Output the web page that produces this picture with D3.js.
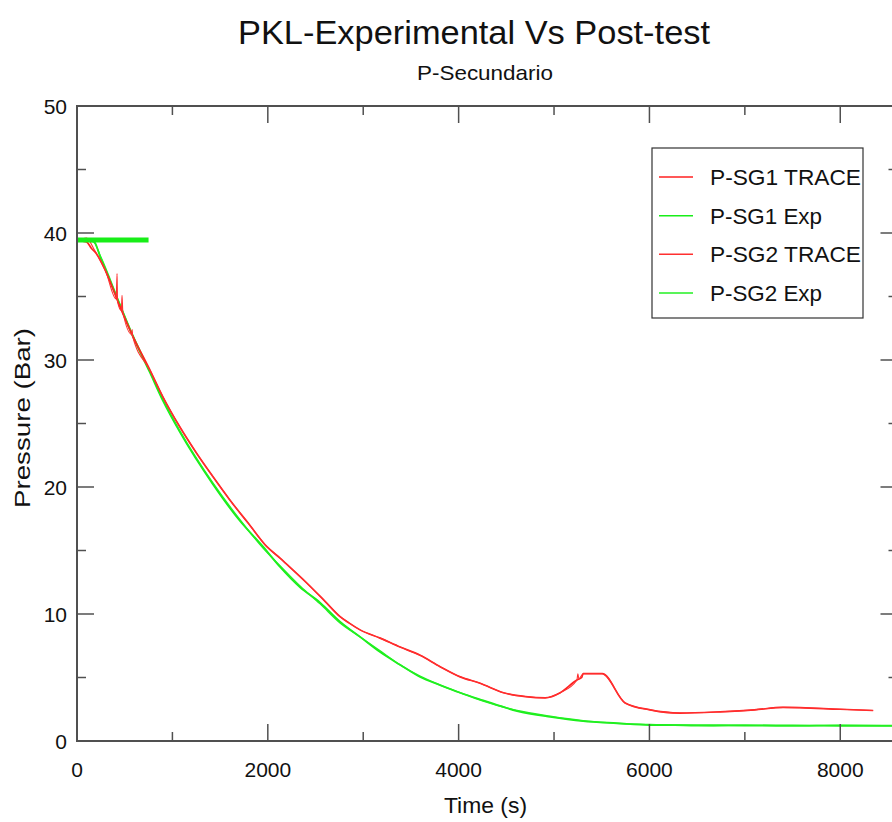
<!DOCTYPE html>
<html lang="en">
<head>
    <meta charset="UTF-8">
    <script src="https://d3js.org/d3.v7.min.js"></script>
    <style>
        body { margin: 0; background: #fff; }
        svg { display: block; font-family: "Liberation Sans", Arial, sans-serif; }
        .tick-label { font-size: 21px; fill: #111; }
    </style>
</head>
<body>
<div id="chart_area"></div>
<script>
    // time (s) / pressure (bar)
    var sg1TraceTime = [0, 100, 150, 200, 300, 450, 577, 765, 900, 1080, 1250, 1426, 1600, 1800, 1990, 2128, 2200, 2400, 2600, 2757, 2850, 2967, 3177, 3386, 3596, 3806, 4016, 4225, 4470, 4700, 4907, 5065, 5240, 5290, 5305, 5505, 5745, 6008, 6320, 6740, 7100, 7400, 8000, 8345];
    var sg1TraceP    = [39.4, 39.3, 38.8, 38.4, 37.0, 34.2, 32.0, 29.2, 27.1, 24.7, 22.7, 20.8, 19.0, 17.1, 15.3, 14.4, 13.9, 12.5, 11.0, 9.8, 9.3, 8.75, 8.1, 7.4, 6.75, 5.85, 5.05, 4.55, 3.8, 3.5, 3.4, 3.8, 4.8, 5.0, 5.3, 5.3, 3.0, 2.45, 2.2, 2.3, 2.45, 2.65, 2.5, 2.4];

    var sg2TraceTime = [0, 100, 180, 300, 410, 420, 425, 465, 472, 480, 577, 578, 582, 765, 900, 1080, 1250, 1426, 1600, 1800, 1990, 2128, 2200, 2400, 2600, 2757, 2850, 2967, 3177, 3386, 3596, 3806, 4016, 4225, 4470, 4700, 4907, 5065, 5240, 5250, 5260, 5305, 5505, 5745, 6008, 6320, 6740, 7100, 7400, 8000, 8345];
    var sg2TraceP    = [39.4, 39.6, 38.7, 37.0, 34.8, 36.8, 34.6, 33.9, 35.1, 33.8, 32.0, 32.4, 31.9, 29.2, 27.1, 24.7, 22.7, 20.8, 19.0, 17.1, 15.3, 14.4, 13.9, 12.5, 11.0, 9.8, 9.3, 8.75, 8.1, 7.4, 6.75, 5.85, 5.05, 4.55, 3.8, 3.5, 3.4, 3.8, 4.8, 5.3, 4.9, 5.3, 5.3, 3.0, 2.45, 2.2, 2.3, 2.45, 2.65, 2.5, 2.4];

    var sg1ExpTime = [0, 170, 250, 450, 577, 765, 900, 1080, 1426, 1700, 1950, 2128, 2338, 2548, 2757, 2967, 3177, 3386, 3596, 3806, 4016, 4257, 4613, 4960, 5305, 5660, 6008, 6500, 7000, 7500, 8000, 8600];
    var sg1ExpP    = [39.4, 39.4, 38.0, 34.3, 32.0, 29.0, 26.8, 24.3, 20.2, 17.4, 15.3, 13.7, 12.1, 10.9, 9.4, 8.2, 7.0, 6.0, 5.04, 4.4, 3.8, 3.2, 2.36, 1.9, 1.57, 1.4, 1.26, 1.25, 1.22, 1.22, 1.2, 1.2];

    var sg2ExpTime = [0, 170, 250, 450, 577, 765, 900, 1080, 1426, 1700, 1950, 2128, 2338, 2548, 2757, 2967, 3177, 3386, 3596, 3806, 4016, 4257, 4613, 4960, 5305, 5660, 6008, 6500, 7000, 7500, 8000, 8600];
    var sg2ExpP    = [39.4, 39.3, 38.1, 34.4, 32.1, 29.1, 26.9, 24.4, 20.3, 17.5, 15.2, 13.8, 12.2, 10.8, 9.3, 8.2, 7.1, 6.0, 5.1, 4.4, 3.8, 3.15, 2.4, 1.95, 1.6, 1.38, 1.3, 1.2, 1.25, 1.2, 1.25, 1.2];

    // thick flat band of experimental data at the start
    var expBandTime = [0, 750];
    var expBandP    = [39.45, 39.45];

    var xTicks = [0, 2000, 4000, 6000, 8000];
    var xMinorTicks = [1000, 3000, 5000, 7000];
    var yTicks = [0, 10, 20, 30, 40, 50];
    var yMinorTicks = [5, 15, 25, 35, 45];

    var seriesNames = ["P-SG1 TRACE", "P-SG1 Exp", "P-SG2 TRACE", "P-SG2 Exp"];
    var seriesColors = ["#ff2020", "#18ee18", "#ff3030", "#22f022"];

    var W = 892, H = 822;
    var margin = { top: 106, left: 77 };
    var plotW = 820.5, plotH = 635;

    var svg = d3.select("#chart_area").append("svg")
        .attr("width", W)
        .attr("height", H);

    var x = d3.scaleLinear().domain([0, 8600]).range([margin.left, margin.left + plotW]);
    var y = d3.scaleLinear().domain([0, 50]).range([margin.top + plotH, margin.top]);

    // titles
    svg.append("text")
        .attr("x", 238).attr("y", 44)
        .attr("textLength", 472)
        .attr("lengthAdjust", "spacingAndGlyphs")
        .style("font-size", "33px").style("fill", "#111")
        .text("PKL-Experimental Vs Post-test");
    svg.append("text")
        .attr("x", 417).attr("y", 80)
        .attr("textLength", 136)
        .attr("lengthAdjust", "spacingAndGlyphs")
        .style("font-size", "21px").style("fill", "#111")
        .text("P-Secundario");

    // clip for data lines
    svg.append("clipPath").attr("id", "plotClip")
        .append("rect")
        .attr("x", margin.left).attr("y", margin.top)
        .attr("width", plotW).attr("height", plotH);

    var line = d3.line()
        .curve(d3.curveMonotoneX)
        .x(function(d) { return x(d[0]); })
        .y(function(d) { return y(d[1]); });

    function zipSeries(t, p) {
        return t.map(function(v, i) { return [v, p[i]]; });
    }

    var lines = svg.append("g").attr("clip-path", "url(#plotClip)");

    var allSeries = [
        { data: zipSeries(sg1ExpTime, sg1ExpP), color: seriesColors[1], w: 1.8 },
        { data: zipSeries(sg2ExpTime, sg2ExpP), color: seriesColors[3], w: 1.4 },
        { data: zipSeries(sg1TraceTime, sg1TraceP), color: seriesColors[0], w: 1.7 },
        { data: zipSeries(sg2TraceTime, sg2TraceP), color: seriesColors[2], w: 1.1 },
        { data: zipSeries(expBandTime, expBandP), color: seriesColors[1], w: 5 }
    ];

    lines.selectAll("path.series")
        .data(allSeries)
        .enter()
        .append("path")
        .attr("class", "series")
        .attr("fill", "none")
        .attr("stroke", function(d) { return d.color; })
        .attr("stroke-width", function(d) { return d.w; })
        .attr("stroke-linejoin", "round")
        .attr("d", function(d) { return line(d.data); });

    // frame
    var axisColor = "#505050";
    svg.append("rect")
        .attr("x", margin.left).attr("y", margin.top)
        .attr("width", plotW).attr("height", plotH)
        .attr("fill", "none")
        .attr("stroke", axisColor)
        .attr("stroke-width", 2);

    // inward ticks on all four sides
    var majorLen = 17, minorLen = 9;
    var ticks = svg.append("g").attr("stroke", axisColor).attr("stroke-width", 1.5);
    function xTickMarks(vals, len) {
        vals.forEach(function(v) {
            ticks.append("line").attr("x1", x(v)).attr("x2", x(v))
                .attr("y1", y(0)).attr("y2", y(0) - len);
            ticks.append("line").attr("x1", x(v)).attr("x2", x(v))
                .attr("y1", y(50)).attr("y2", y(50) + len);
        });
    }
    function yTickMarks(vals, len) {
        vals.forEach(function(v) {
            ticks.append("line").attr("y1", y(v)).attr("y2", y(v))
                .attr("x1", x(0)).attr("x2", x(0) + len);
            ticks.append("line").attr("y1", y(v)).attr("y2", y(v))
                .attr("x1", x(8600)).attr("x2", x(8600) - len);
        });
    }
    xTickMarks(xTicks, majorLen);
    xTickMarks(xMinorTicks, minorLen);
    yTickMarks(yTicks, majorLen);
    yTickMarks(yMinorTicks, minorLen);

    // tick labels
    svg.selectAll("text.xlab")
        .data(xTicks)
        .enter().append("text")
        .attr("class", "tick-label")
        .attr("x", function(d) { return x(d); })
        .attr("y", 777)
        .attr("text-anchor", "middle")
        .text(function(d) { return d; });

    svg.selectAll("text.ylab")
        .data(yTicks)
        .enter().append("text")
        .attr("class", "tick-label")
        .attr("x", 67)
        .attr("y", function(d) { return y(d) + 8; })
        .attr("text-anchor", "end")
        .text(function(d) { return d; });

    // axis titles
    svg.append("text")
        .attr("x", 444).attr("y", 813)
        .attr("textLength", 83)
        .attr("lengthAdjust", "spacingAndGlyphs")
        .style("font-size", "22px").style("fill", "#111")
        .text("Time (s)");
    svg.append("text")
        .attr("transform", "translate(30,508) rotate(-90)")
        .attr("textLength", 180)
        .attr("lengthAdjust", "spacingAndGlyphs")
        .style("font-size", "22px").style("fill", "#111")
        .text("Pressure (Bar)");

    // legend
    var legend = svg.append("g");
    legend.append("rect")
        .attr("x", 652).attr("y", 148)
        .attr("width", 211).attr("height", 170)
        .attr("fill", "#fff")
        .attr("stroke", "#333")
        .attr("stroke-width", 1.2);
    var legendY = d3.scalePoint().domain(seriesNames).range([177, 293]);
    seriesNames.forEach(function(name, i) {
        legend.append("line")
            .attr("x1", 659).attr("x2", 693)
            .attr("y1", legendY(name)).attr("y2", legendY(name))
            .attr("stroke", seriesColors[i])
            .attr("stroke-width", 1.5);
        legend.append("text")
            .attr("x", 710).attr("y", legendY(name) + 8)
            .attr("textLength", name.indexOf("TRACE") >= 0 ? 151 : 112)
            .attr("lengthAdjust", "spacingAndGlyphs")
            .style("font-size", "22px").style("fill", "#111")
            .text(name);
    });
</script>
</body>
</html>
